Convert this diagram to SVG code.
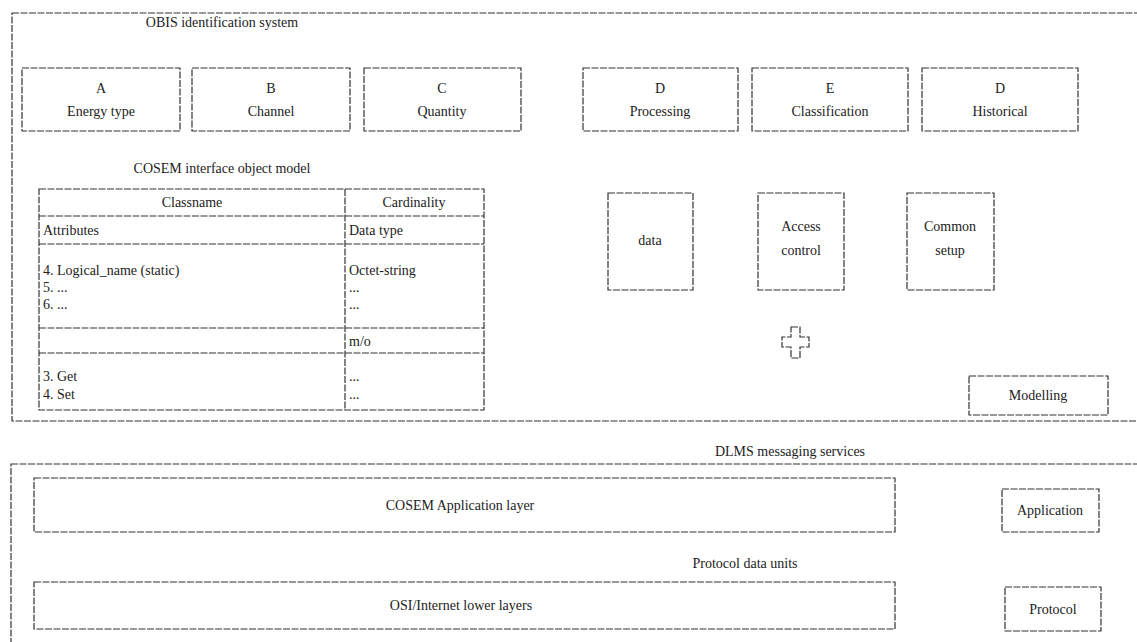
<svg xmlns="http://www.w3.org/2000/svg" width="1137" height="642" viewBox="0 0 1137 642" font-family="Liberation Serif, Times New Roman, DejaVu Serif, serif">
<style>
.b{fill:none;stroke:#333;stroke-width:1.2;stroke-dasharray:7 1.5}
.t{font-size:14px;fill:#222}
.c{text-anchor:middle}
</style>
<rect width="1137" height="642" fill="#fff"/>
<g id="modelling-frame">
<rect class="b" x="12" y="13" width="1140" height="408"/>
<text class="t c" x="222" y="27">OBIS identification system</text>
</g>
<g id="obis-a"><rect class="b" x="22" y="68" width="158" height="63"/><text class="t c" x="101" y="93">A</text><text class="t c" x="101" y="116">Energy type</text></g>
<g id="obis-b"><rect class="b" x="192" y="68" width="158" height="63"/><text class="t c" x="271" y="93">B</text><text class="t c" x="271" y="116">Channel</text></g>
<g id="obis-c"><rect class="b" x="364" y="68" width="157" height="63"/><text class="t c" x="442" y="93">C</text><text class="t c" x="442" y="116">Quantity</text></g>
<g id="obis-d"><rect class="b" x="583" y="68" width="155" height="63"/><text class="t c" x="660" y="93">D</text><text class="t c" x="660" y="116">Processing</text></g>
<g id="obis-e"><rect class="b" x="752" y="68" width="156" height="63"/><text class="t c" x="830" y="93">E</text><text class="t c" x="830" y="116">Classification</text></g>
<g id="obis-f"><rect class="b" x="922" y="68" width="156" height="63"/><text class="t c" x="1000" y="93">D</text><text class="t c" x="1000" y="116">Historical</text></g>
<g id="cosem-model">
<text class="t c" x="222" y="173">COSEM interface object model</text>
<rect class="b" x="39" y="189" width="445" height="221"/>
<line class="b" x1="345" y1="189" x2="345" y2="410"/>
<line class="b" x1="39" y1="216" x2="484" y2="216"/>
<line class="b" x1="39" y1="244" x2="484" y2="244"/>
<line class="b" x1="39" y1="328" x2="484" y2="328"/>
<line class="b" x1="39" y1="353" x2="484" y2="353"/>
<text class="t c" x="192" y="207">Classname</text>
<text class="t c" x="414" y="207">Cardinality</text>
<text class="t" x="43" y="235">Attributes</text>
<text class="t" x="349" y="235">Data type</text>
<text class="t" x="43" y="275">4. Logical_name (static)</text>
<text class="t" x="43" y="292">5. ...</text>
<text class="t" x="43" y="309">6. ...</text>
<text class="t" x="349" y="275">Octet-string</text>
<text class="t" x="349" y="292">...</text>
<text class="t" x="349" y="309">...</text>
<text class="t" x="349" y="346">m/o</text>
<text class="t" x="43" y="381">3. Get</text>
<text class="t" x="43" y="399">4. Set</text>
<text class="t" x="349" y="381">...</text>
<text class="t" x="349" y="399">...</text>
</g>
<g id="data"><rect class="b" x="608" y="193" width="85" height="97"/><text class="t c" x="650" y="245">data</text></g>
<g id="access-control"><rect class="b" x="758" y="193" width="86" height="97"/><text class="t c" x="801" y="231">Access</text><text class="t c" x="801" y="255">control</text></g>
<g id="common-setup"><rect class="b" x="907" y="193" width="87" height="97"/><text class="t c" x="950" y="231">Common</text><text class="t c" x="950" y="255">setup</text></g>
<g id="plus"><path class="b" d="M791 327H800V337H809V347H800V358H791V347H782V337H791Z"/></g>
<g id="modelling"><rect class="b" x="969" y="376" width="139" height="39"/><text class="t c" x="1038" y="400">Modelling</text></g>
<g id="dlms-frame">
<text class="t c" x="790" y="456">DLMS messaging services</text>
<rect class="b" x="11" y="464" width="1140" height="200"/>
<text class="t c" x="745" y="568">Protocol data units</text>
</g>
<g id="app-layer"><rect class="b" x="34" y="478" width="861" height="54"/><text class="t c" x="460" y="510">COSEM Application layer</text></g>
<g id="application"><rect class="b" x="1002" y="489" width="97" height="43"/><text class="t c" x="1050" y="515">Application</text></g>
<g id="lower-layers"><rect class="b" x="34" y="582" width="861" height="47"/><text class="t c" x="461" y="610">OSI/Internet lower layers</text></g>
<g id="protocol"><rect class="b" x="1005" y="587" width="96" height="44"/><text class="t c" x="1053" y="614">Protocol</text></g>
<g id="connectors"></g>
</svg>
